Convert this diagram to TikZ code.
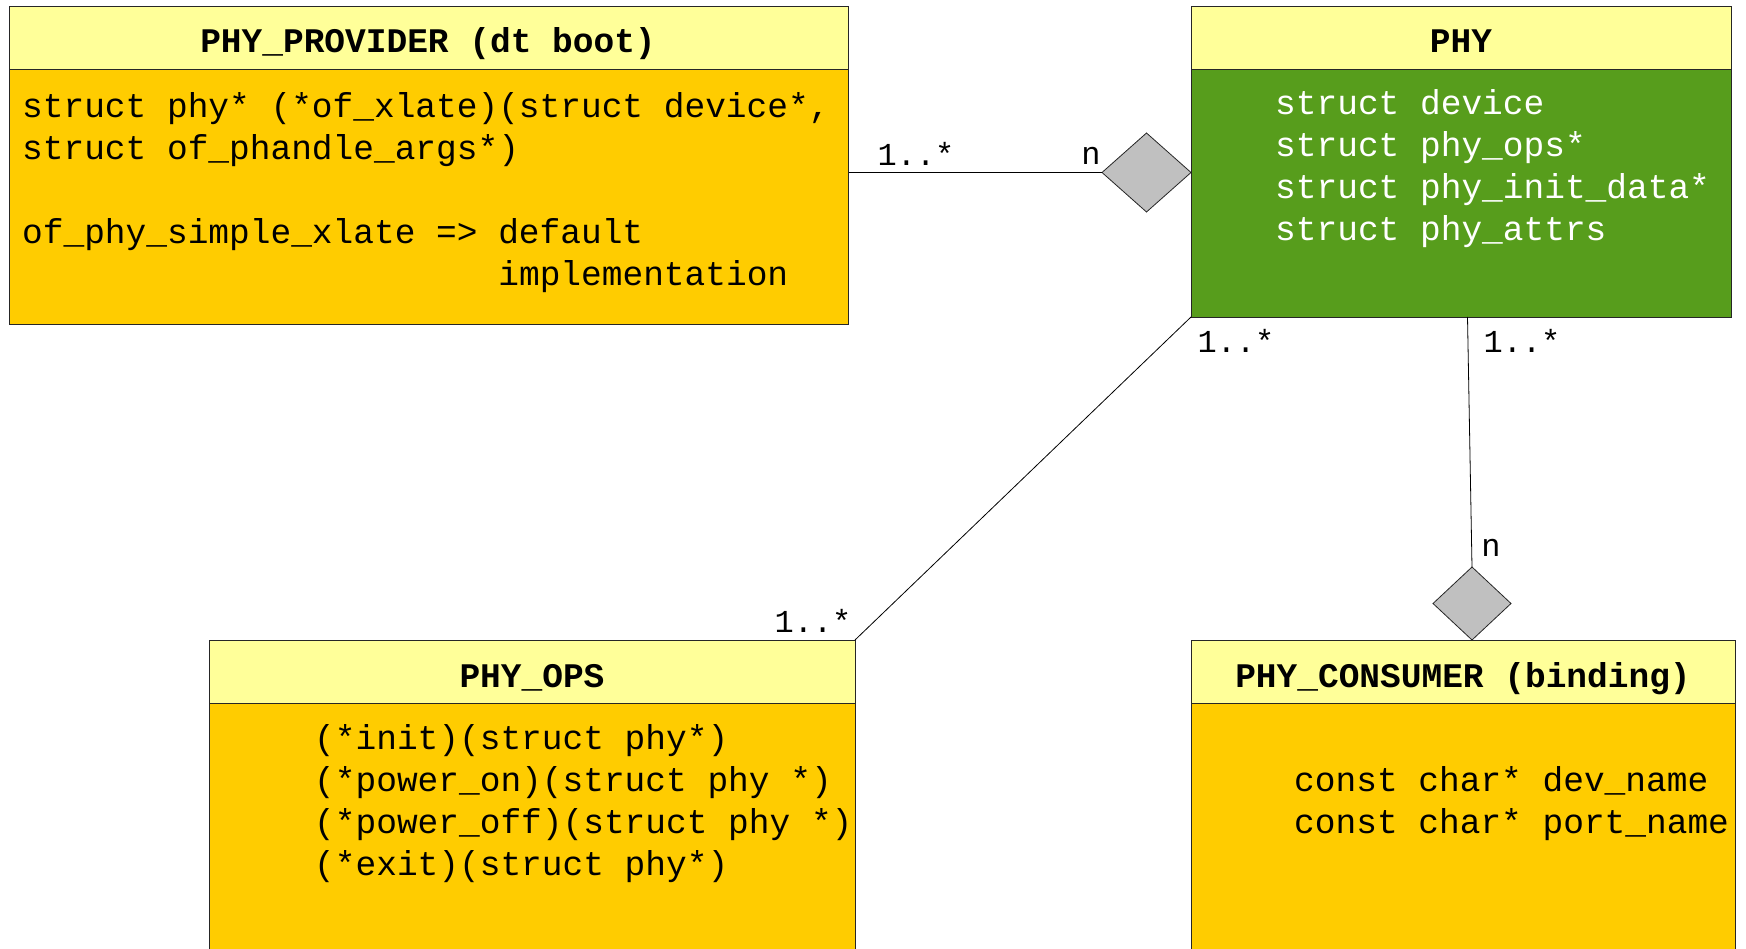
\documentclass[tikz,border=0pt]{standalone}
\usepackage{fontspec}
\setmonofont{Liberation Mono}
\usetikzlibrary{shapes.geometric}

\definecolor{hdrfill}{HTML}{FFFF99}
\definecolor{bodyfill}{HTML}{FFCC00}
\definecolor{phyfill}{HTML}{579D1C}
\definecolor{aggrfill}{HTML}{C0C0C0}

\tikzset{
  classpart/.style={draw=black!85, line width=0.8pt, rectangle, inner sep=0pt,
    outer sep=0pt, anchor=north west},
  hdrbox/.style={classpart, fill=hdrfill},
  bodybox/.style={classpart, fill=bodyfill},
  greenbox/.style={classpart, fill=phyfill},
  titletext/.style={anchor=base, inner sep=0pt,
    font=\ttfamily\bfseries\fontsize{34.5}{42}\selectfont},
  % the base anchor of a multi-line node sits on its last line
  membertext/.style={anchor=base west, inner sep=0pt, align=left,
    font=\ttfamily\fontsize{34.5}{42}\selectfont},
  multtext/.style={anchor=base, inner sep=0pt,
    font=\ttfamily\fontsize{32}{38}\selectfont},
  aggr/.style={shape=diamond, draw=black!85, fill=aggrfill, line width=0.8pt,
    inner sep=0pt, outer sep=0pt},
  assoc/.style={draw=black, line width=0.8pt}
}

\begin{document}
\begin{tikzpicture}[x=1pt, y=-1pt]
\useasboundingbox (0,0) rectangle (1746,949);

% PHY_PROVIDER
\node[hdrbox, minimum width=839.5pt, minimum height=63pt] (provhdr) at (9,6) {};
\node[bodybox, minimum width=839.5pt, minimum height=255pt] (provbody) at (9,69) {};
\node[titletext] (provtitle) at (428,53) {PHY\_PROVIDER (dt boot)};
\node[membertext] (provmembers) at (22,286)
  {struct phy* (*of\_xlate)(struct device*,\\
   struct of\_phandle\_args*)\\
   \\
   of\_phy\_simple\_xlate => default\\
   \phantom{of\_phy\_simple\_xlate => }implementation};

% PHY
\node[hdrbox, minimum width=540.5pt, minimum height=63pt] (phyhdr) at (1191,6) {};
\node[greenbox, minimum width=540.5pt, minimum height=248pt] (phybody) at (1191,69) {};
\node[titletext] (phytitle) at (1461,53) {PHY};
\node[membertext, text=white] (phymembers) at (1275,240.5)
  {struct device\\
   struct phy\_ops*\\
   struct phy\_init\_data*\\
   struct phy\_attrs};

% PHY_OPS
\node[hdrbox, minimum width=646pt, minimum height=63pt] (opshdr) at (209,640) {};
\node[bodybox, minimum width=646pt, minimum height=260pt] (opsbody) at (209,703) {};
\node[titletext] (opstitle) at (532,687) {PHY\_OPS};
\node[membertext] (opsmembers) at (314,875.5)
  {(*init)(struct phy*)\\
   (*power\_on)(struct phy *)\\
   (*power\_off)(struct phy *)\\
   (*exit)(struct phy*)};

% PHY_CONSUMER
\node[hdrbox, minimum width=544pt, minimum height=63pt] (conshdr) at (1191,640) {};
\node[bodybox, minimum width=544pt, minimum height=260pt] (consbody) at (1191,703) {};
\node[titletext] (constitle) at (1463,687) {PHY\_CONSUMER (binding)};
\node[membertext] (consmembers) at (1294,833)
  {const char* dev\_name\\
   const char* port\_name};

% aggregation diamonds
\node[aggr, minimum width=89pt, minimum height=79pt] (provagg) at (1146.5,172.5) {};
\node[aggr, minimum width=78pt, minimum height=73pt] (consagg) at (1472,603.5) {};

% associations
\draw[assoc] (provagg.west) -- (provagg.west -| provbody.east);
\draw[assoc] (phybody.south west) -- (opshdr.north east);
\coordinate (phyfoot) at (1467.5,317);
\draw[assoc] (phyfoot) -- (consagg.north);

% multiplicities
\node[multtext] (m1) at (916,165.5) {1..*};
\node[multtext] (m2) at (1091,164.5) {n};
\node[multtext] (m3) at (1236,353) {1..*};
\node[multtext] (m4) at (813,632) {1..*};
\node[multtext] (m5) at (1522,353) {1..*};
\node[multtext] (m6) at (1491,556) {n};
\end{tikzpicture}
\end{document}
